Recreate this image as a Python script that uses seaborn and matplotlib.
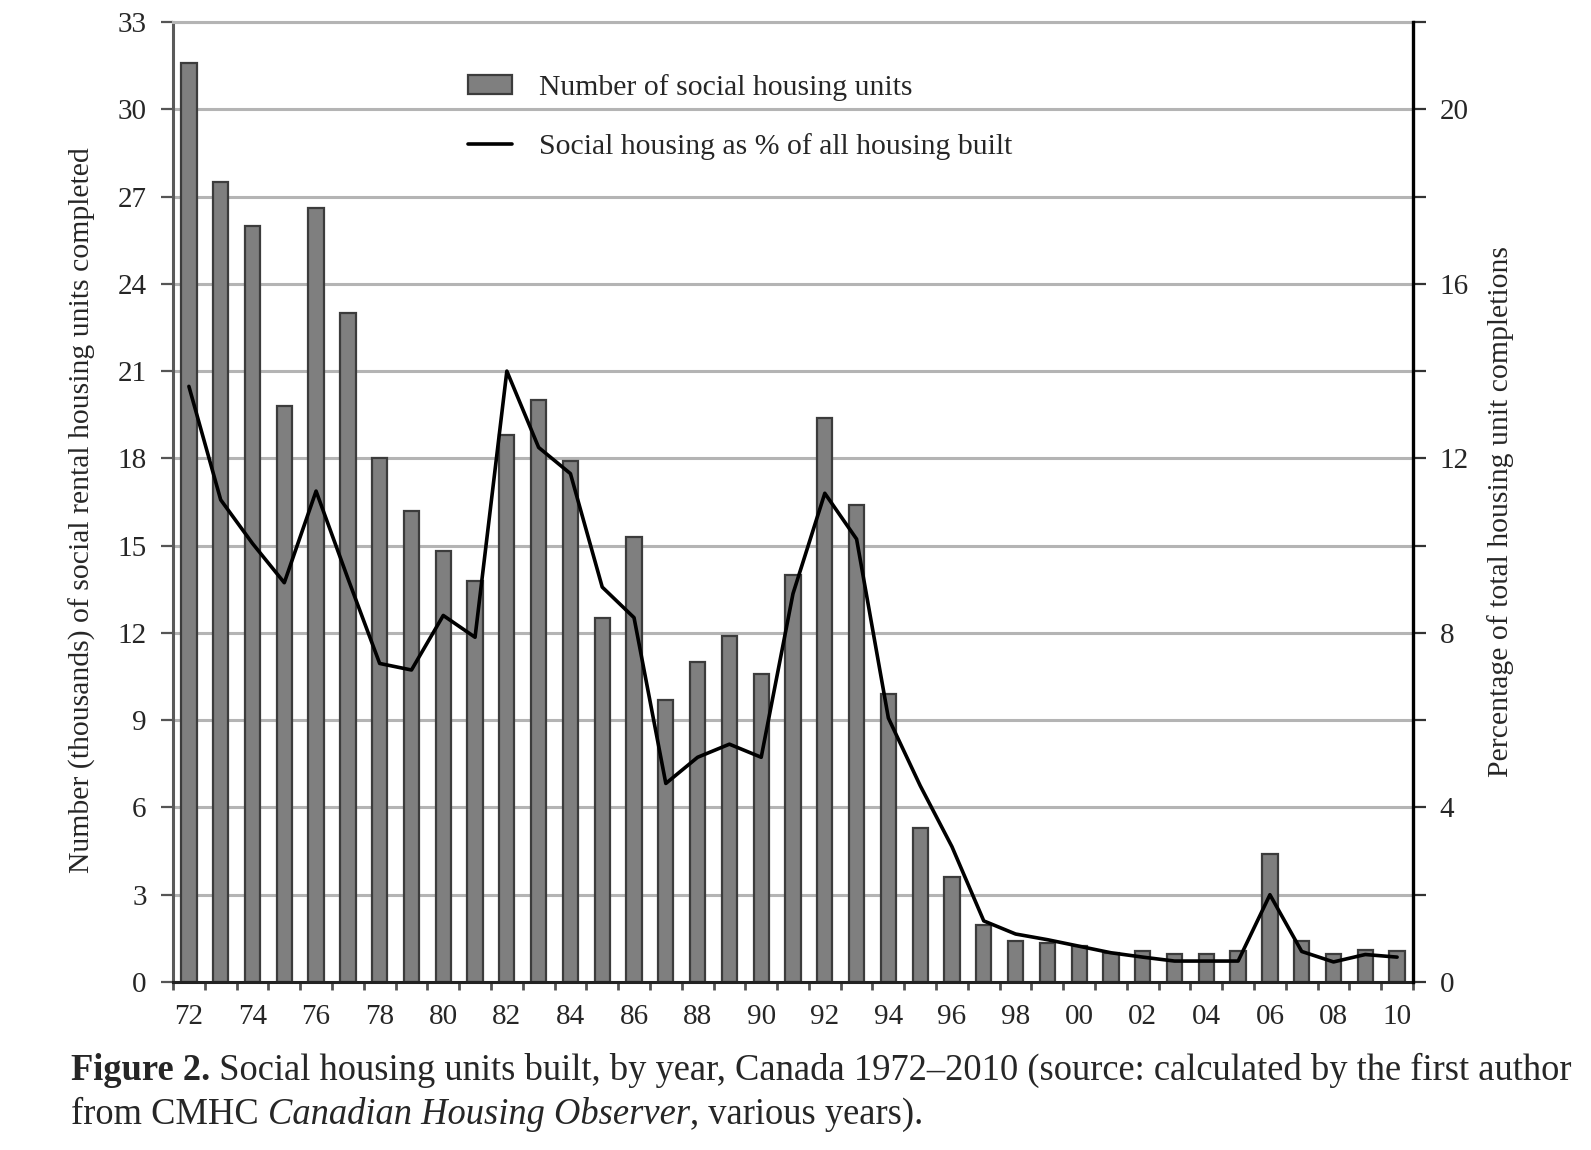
import numpy as np
import pandas as pd
import seaborn as sns
import matplotlib.pyplot as plt
from matplotlib.patches import Patch
from matplotlib.lines import Line2D

years = list(range(1972, 2011))
# thousands of social rental units completed
units = [31.6, 27.5, 26.0, 19.8, 26.6, 23.0, 18.0, 16.2, 14.8, 13.8,
         18.8, 20.0, 17.9, 12.5, 15.3, 9.7, 11.0, 11.9, 10.6, 14.0,
         19.4, 16.4, 9.9, 5.3, 3.6, 1.95, 1.4, 1.35, 1.25, 1.0,
         1.05, 0.95, 0.95, 1.05, 4.4, 1.4, 0.95, 1.1, 1.05]
# social housing as % of all housing built
share = [13.65, 11.05, 10.05, 9.15, 11.25, 9.25, 7.3, 7.15, 8.4, 7.9,
         14.0, 12.25, 11.65, 9.05, 8.35, 4.55, 5.15, 5.45, 5.15, 8.9,
         11.2, 10.15, 6.05, 4.5, 3.1, 1.4, 1.1, 0.97, 0.82, 0.67,
         0.57, 0.48, 0.48, 0.48, 2.0, 0.7, 0.46, 0.63, 0.57]
year_labels = [f'{y % 100:02d}' for y in years]

left_label = 'Number (thousands) of social rental housing units completed'
right_label = 'Percentage of total housing unit completions'
legend_labels = ['Number of social housing units',
                 'Social housing as % of all housing built']

sns.set_style('white')
plt.rcParams['font.family'] = ['Liberation Serif', 'DejaVu Serif']

df = pd.DataFrame({'year': years, 'units': units, 'share': share})
df['pos'] = np.arange(len(df))

bar_col = '#7f7f7f'
edge_col = '#3c3c3c'
grid_col = '#b4b4b4'
fs = 21
lab_fs = 21.4

fig = plt.figure(figsize=(15.91, 11.5), dpi=100)
ax = fig.add_axes([173 / 1591, 1 - 982 / 1150, 1240 / 1591, 960 / 1150])

sns.barplot(data=df, x='pos', y='units', color=bar_col, saturation=1,
            edgecolor=edge_col, linewidth=1.6, width=0.48, ax=ax, zorder=2)
ax.set_xlim(-0.5, len(years) - 0.5)
ax.set_ylim(0, 33)
ax.set_yticks(range(0, 34, 3))
ax.yaxis.grid(True, color=grid_col, lw=2.2)
ax.set_axisbelow(True)

ax.set_xticks(range(0, len(years), 2))
ax.set_xticklabels(year_labels[::2])
ax.set_xticks(np.arange(-0.5, len(years), 1), minor=True)
ax.tick_params(axis='x', which='major', length=0, pad=16, labelsize=fs)
ax.tick_params(axis='x', which='minor', length=6, width=2, color='#555555',
               direction='out', bottom=True)
ax.tick_params(axis='y', length=9, width=1.6, color='#555555',
               direction='out', left=True, pad=10, labelsize=fs)
ax.set_xlabel('')
ax.set_ylabel(left_label, fontsize=lab_fs)
ax.yaxis.set_label_coords(-0.062, 0.492)

ax.spines['top'].set_color(grid_col)
ax.spines['top'].set_linewidth(2.2)
ax.spines['left'].set_color('#5a5a5a')
ax.spines['left'].set_linewidth(2.2)
ax.spines['bottom'].set_color('#222222')
ax.spines['bottom'].set_linewidth(2.2)
ax.spines['right'].set_visible(False)

ax2 = ax.twinx()
sns.lineplot(data=df, x='pos', y='share', color='black', lw=2.6, ax=ax2)
ax2.set_ylim(0, 22)
ax2.set_yticks(range(0, 21, 4))
ax2.set_yticks(range(2, 23, 4), minor=True)
ax2.tick_params(axis='y', which='both', length=9, width=1.6, color='#333333',
                direction='out', right=True, pad=10, labelsize=fs)
ax2.set_ylabel(right_label, fontsize=lab_fs)
ax2.yaxis.set_label_coords(1.06, 0.49)
for s in ['top', 'left', 'bottom']:
    ax2.spines[s].set_visible(False)
ax2.spines['right'].set_color('black')
ax2.spines['right'].set_linewidth(2.4)

handles = [Patch(facecolor=bar_col, edgecolor=edge_col, linewidth=1.6),
           Line2D([], [], color='black', lw=2.6)]
ax2.legend(handles, legend_labels, loc='upper left',
           bbox_to_anchor=(0.216, 0.974), frameon=False, fontsize=lab_fs,
           handlelength=1.5, handleheight=0.6, labelspacing=1.1,
           handletextpad=0.9)

# caption with mixed font styles, placed piece by piece
cap_fs = 26.3
lines = [
    [('Figure 2.', 'bold', 'normal'),
     (' Social housing units built, by year, Canada 1972\u20132010 '
      '(source: calculated by the first author', 'normal', 'normal')],
    [('from CMHC ', 'normal', 'normal'),
     ('Canadian Housing Observer', 'normal', 'italic'),
     (', various years).', 'normal', 'normal')],
]
baselines = [1 - 1080 / 1150, 1 - 1124 / 1150]
renderer = fig.canvas.get_renderer()
for pieces, yb in zip(lines, baselines):
    x = 71 / 1591
    for txt, wt, st in pieces:
        t = fig.text(x, yb, txt, fontsize=cap_fs, fontweight=wt,
                     fontstyle=st, va='baseline', ha='left')
        bb = t.get_window_extent(renderer)
        x = bb.x1 / fig.bbox.width

fig.savefig('out.png', dpi=100)
